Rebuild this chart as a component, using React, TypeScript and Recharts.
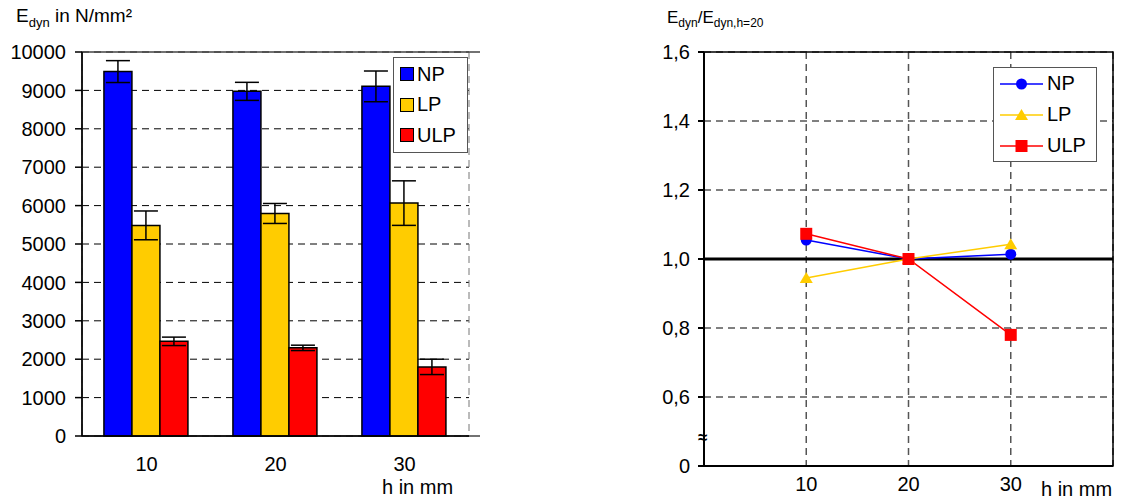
import React from 'react';
import {
  BarChart,
  Bar,
  ErrorBar,
  LineChart,
  Line,
  XAxis,
  YAxis,
  CartesianGrid,
  ReferenceLine,
  ReferenceArea,
  Legend,
} from 'recharts';

// left chart: E_dyn per plate height
const heights = ['10', '20', '30'];
const npValues = [9490, 8975, 9105];
const npErrors = [285, 235, 400];
const lpValues = [5485, 5795, 6065];
const lpErrors = [375, 260, 580];
const ulpValues = [2465, 2295, 1800];
const ulpErrors = [110, 70, 200];
const eTicks = [0, 1000, 2000, 3000, 4000, 5000, 6000, 7000, 8000, 9000, 10000];

// right chart: ratio to h = 20
const ratioHeights = [10, 20, 30];
const npRatio = [1.055, 1.0, 1.014];
const lpRatio = [0.945, 1.0, 1.043];
const ulpRatio = [1.073, 1.0, 0.78];
const ratioTicks = [0.4, 0.6, 0.8, 1.0, 1.2, 1.4, 1.6];

const BLUE = '#0000ff';
const YELLOW = '#ffcc00';
const RED = '#ff0000';
const FONT = '"Liberation Sans", Arial, sans-serif';

const series = [
  { key: 'np', name: 'NP', color: BLUE, shape: 'circle' },
  { key: 'lp', name: 'LP', color: YELLOW, shape: 'triangle' },
  { key: 'ulp', name: 'ULP', color: RED, shape: 'square' },
];

const barData = heights.map((h, i) => ({
  h,
  np: npValues[i],
  npErr: npErrors[i],
  lp: lpValues[i],
  lpErr: lpErrors[i],
  ulp: ulpValues[i],
  ulpErr: ulpErrors[i],
}));

const lineData = ratioHeights.map((h, i) => ({
  h,
  np: npRatio[i],
  lp: lpRatio[i],
  ulp: ulpRatio[i],
}));

const fmtRatio = (v: number) => (Math.abs(v - 0.4) < 1e-6 ? '0' : v.toFixed(1).replace('.', ','));

const Marker = ({ shape, cx, cy, color }: { shape: string; cx: number; cy: number; color: string }) => {
  if (shape === 'circle') return <circle cx={cx} cy={cy} r={5.5} fill={color} />;
  if (shape === 'triangle')
    return <polygon points={`${cx},${cy - 6} ${cx - 6.5},${cy + 5} ${cx + 6.5},${cy + 5}`} fill={color} />;
  return <rect x={cx - 6} y={cy - 6} width={12} height={12} fill={color} />;
};

const makeDot = (shape: string, color: string) => (p: any) => (
  <g key={`${shape}-${p.index}`}>
    <Marker shape={shape} cx={p.cx} cy={p.cy} color={color} />
  </g>
);

const BarLegend = () => (
  <div
    style={{
      border: '1px solid #555',
      background: '#fff',
      width: 75,
      padding: '1px 0 1px 6px',
      fontFamily: FONT,
      fontSize: 20,
      boxSizing: 'border-box',
    }}
  >
    {series.map((s) => (
      <div key={s.key} style={{ display: 'flex', alignItems: 'center', height: 30.5 }}>
        <span
          style={{
            display: 'inline-block',
            width: 12,
            height: 12,
            background: s.color,
            border: '1.5px solid #000',
            marginRight: 3,
          }}
        />
        {s.name}
      </div>
    ))}
  </div>
);

const LineLegend = () => (
  <div
    style={{
      border: '1px solid #555',
      background: '#fff',
      width: 104,
      padding: '0 0 0 6px',
      fontFamily: FONT,
      fontSize: 20,
      boxSizing: 'border-box',
    }}
  >
    {series.map((s) => (
      <div key={s.key} style={{ display: 'flex', alignItems: 'center', height: 31 }}>
        <svg width={43} height={16} style={{ marginRight: 4 }}>
          <line x1={0} y1={8} x2={43} y2={8} stroke={s.color} strokeWidth={1.5} />
          <Marker shape={s.shape} cx={21.5} cy={8} color={s.color} />
        </svg>
        {s.name}
      </div>
    ))}
  </div>
);

const tickStyle = { fontSize: 20, fill: '#000', fontFamily: FONT };

export default function App() {
  return (
    <div style={{ position: 'absolute', left: 0, top: 0, width: 1122, height: 500, background: '#fff', fontFamily: FONT }}>
      {/* left chart */}
      <div style={{ position: 'absolute', left: 16, top: 5, fontSize: 19 }}>
        E<sub style={{ fontSize: 13 }}>dyn</sub> in N/mm²
      </div>
      <div style={{ position: 'absolute', left: 382, top: 476, fontSize: 20, lineHeight: '22px' }}>h in mm</div>
      <div style={{ position: 'absolute', left: 0, top: 0 }}>
        <BarChart
          width={480}
          height={500}
          data={barData}
          margin={{ top: 52, right: 11, left: 0, bottom: 0 }}
          barCategoryGap="17%"
          barGap={0}
        >
          <CartesianGrid horizontal vertical={false} stroke="#000" strokeDasharray="7 5" />
          <CartesianGrid horizontal={false} vertical stroke="#777" strokeDasharray="7 5" />
          {/* band boundaries: ticks and vertical grid between the groups */}
          <XAxis
            type="number"
            domain={[0, 3]}
            ticks={[0, 1, 2, 3]}
            allowDataOverflow
            height={8}
            tick={false}
            tickSize={7}
            stroke="#000"
            strokeWidth={1.5}
          />
          <XAxis xAxisId="cat" dataKey="h" axisLine={false} tickLine={false} height={56} tickMargin={7} tick={tickStyle} />
          <YAxis
            domain={[0, 10000]}
            ticks={eTicks}
            interval={0}
            width={82}
            tickSize={7}
            tickMargin={9}
            stroke="#000"
            strokeWidth={1.5}
            tick={tickStyle}
          />
          <ReferenceArea
            x1={0}
            x2={3}
            y1={0}
            y2={10000}
            fill="none"
            stroke="#444"
            strokeWidth={1.5}
            ifOverflow="visible"
          />
          {series.map((s) => (
            <Bar
              key={s.key}
              xAxisId="cat"
              dataKey={s.key}
              name={s.name}
              fill={s.color}
              stroke="#000"
              strokeWidth={1.5}
              isAnimationActive={false}
            >
              <ErrorBar dataKey={`${s.key}Err`} width={12} stroke="#000" strokeWidth={1.5} />
            </Bar>
          ))}
          <Legend
            layout="vertical"
            align="center"
            verticalAlign="middle"
            wrapperStyle={{ position: 'absolute', left: 393, top: 57, width: 75 }}
            content={() => <BarLegend />}
          />
        </BarChart>
      </div>

      {/* right chart */}
      <div style={{ position: 'absolute', left: 667, top: 8, fontSize: 17 }}>
        E<sub style={{ fontSize: 12 }}>dyn</sub>/E<sub style={{ fontSize: 12 }}>dyn,h=20</sub>
      </div>
      <div style={{ position: 'absolute', left: 1041, top: 478, fontSize: 20 }}>h in mm</div>
      <div style={{ position: 'absolute', left: 698, top: 428, fontSize: 17, fontWeight: 'bold', lineHeight: '20px' }}>≈</div>
      <div style={{ position: 'absolute', left: 560, top: 0 }}>
        <LineChart width={562} height={500} data={lineData} margin={{ top: 52, right: 9, left: 84, bottom: 0 }}>
          <CartesianGrid horizontal vertical={false} stroke="#000" strokeDasharray="7 5" />
          <CartesianGrid horizontal={false} vertical stroke="#555" strokeDasharray="7 5" strokeWidth={1.5} />
          <XAxis
            dataKey="h"
            type="number"
            domain={[0, 40]}
            ticks={[10, 20, 30]}
            interval={0}
            height={34}
            tickLine={false}
            tickMargin={5}
            stroke="#000"
            strokeWidth={2}
            tick={tickStyle}
          />
          <YAxis
            domain={[0.4, 1.6]}
            ticks={ratioTicks}
            interval={0}
            width={60}
            tickSize={6}
            tickMargin={8}
            tickFormatter={fmtRatio}
            stroke="#000"
            strokeWidth={2}
            tick={tickStyle}
          />
          <ReferenceArea
            x1={0}
            x2={40}
            y1={0.4}
            y2={1.6}
            fill="none"
            stroke="#000"
            strokeWidth={1.5}
            ifOverflow="visible"
          />
          <ReferenceLine y={1} stroke="#000" strokeWidth={3} />
          {series.map((s) => (
            <Line
              key={s.key}
              dataKey={s.key}
              name={s.name}
              stroke={s.color}
              strokeWidth={1.5}
              dot={makeDot(s.shape, s.color)}
              activeDot={false}
              isAnimationActive={false}
            />
          ))}
          <Legend
            layout="vertical"
            align="center"
            verticalAlign="middle"
            wrapperStyle={{ position: 'absolute', left: 433, top: 67, width: 104 }}
            content={() => <LineLegend />}
          />
        </LineChart>
      </div>
    </div>
  );
}
